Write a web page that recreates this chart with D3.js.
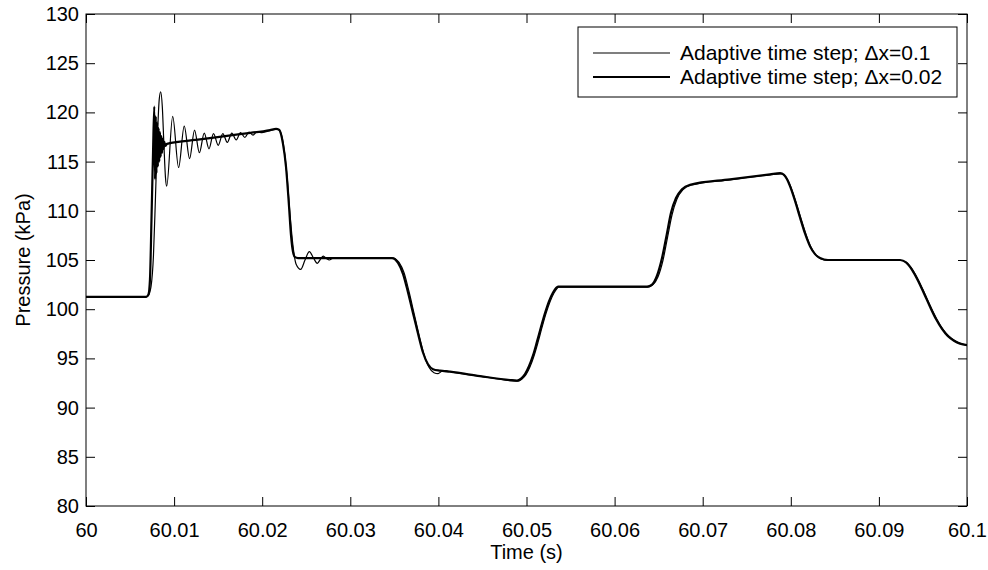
<!DOCTYPE html>
<html>
<head>
<meta charset="utf-8">
<script src="https://cdn.jsdelivr.net/npm/d3@7"></script>
<style>
  html, body { margin: 0; padding: 0; background: #fff; }
  svg { display: block; font-family: "Liberation Sans", Arial, Helvetica, sans-serif; }
</style>
</head>
<body>
<svg id="chart" width="988" height="570"></svg>
<script>
// Pressure transient, adaptive time step, coarse grid (dx = 0.1)
const timeCoarse = [
  60.00000, 60.00670, 60.00704, 60.00738, 60.00766, 60.00789, 60.00812, 60.00831,
  60.00848, 60.00866, 60.00885, 60.00902, 60.00916, 60.00984, 60.01051, 60.01115,
  60.01176, 60.01232, 60.01287, 60.01342, 60.01396, 60.01447, 60.01501, 60.01553,
  60.01604, 60.01655, 60.01705, 60.01754, 60.01803, 60.01850, 60.01896, 60.01941,
  60.01998, 60.02089, 60.02168, 60.02202, 60.02225, 60.02248, 60.02282, 60.02316,
  60.02350, 60.02384, 60.02437, 60.02486, 60.02535, 60.02582, 60.02626, 60.02662,
  60.02694, 60.02728, 60.02762, 60.02804, 60.03485, 60.03553, 60.03610, 60.03666,
  60.03723, 60.03780, 60.03837, 60.03893, 60.03950, 60.03996, 60.04041, 60.04086,
  60.04132, 60.04472, 60.04813, 60.04904, 60.04949, 60.04994, 60.05040, 60.05085,
  60.05131, 60.05176, 60.05221, 60.05267, 60.05312, 60.05369, 60.05834, 60.06379,
  60.06436, 60.06493, 60.06550, 60.06603, 60.06652, 60.06708, 60.06777, 60.06867,
  60.07310, 60.07764, 60.07889, 60.07934, 60.07968, 60.08002, 60.08059, 60.08116,
  60.08173, 60.08229, 60.08286, 60.08343, 60.08434, 60.09251, 60.09319, 60.09387,
  60.09455, 60.09523, 60.09591, 60.09660, 60.09728, 60.09796, 60.09864, 60.09932,
  60.10000
];
const pressureCoarse = [
  101.20, 101.20, 101.35, 102.30, 105.50, 111.50, 117.80, 121.30,
  122.10, 120.60, 116.60, 113.40, 112.50, 119.60, 114.40, 118.60,
  115.30, 118.20, 115.90, 117.90, 116.30, 117.85, 116.65, 117.85,
  116.95, 117.90, 117.20, 117.95, 117.45, 118.00, 117.70, 118.05,
  117.95, 118.15, 118.30, 118.10, 117.50, 116.30, 113.50, 109.60,
  106.40, 104.60, 104.05, 105.00, 105.85, 105.20, 104.66, 105.10,
  105.40, 105.15, 105.00, 105.20, 105.20, 104.75, 103.70, 101.80,
  99.60, 97.40, 95.40, 94.10, 93.55, 93.45, 93.70, 93.75,
  93.65, 93.20, 92.75, 92.68, 92.90, 93.35, 94.15, 95.25,
  96.65, 98.15, 99.55, 100.75, 101.65, 102.25, 102.25, 102.25,
  102.50, 103.30, 105.00, 107.40, 109.60, 111.20, 112.15, 112.60,
  113.15, 113.65, 113.75, 113.55, 113.10, 112.40, 110.90, 109.20,
  107.60, 106.30, 105.50, 105.10, 104.95, 104.95, 104.70, 103.95,
  102.85, 101.55, 100.20, 98.95, 97.95, 97.25, 96.80, 96.50,
  96.35
];

// Same case on the fine grid (dx = 0.02)
const timeFine = [
  60.00000, 60.00681, 60.00709, 60.00726, 60.00743, 60.00761, 60.00775, 60.00784,
  60.00792, 60.00800, 60.00808, 60.00816, 60.00824, 60.00832, 60.00840, 60.00848,
  60.00856, 60.00864, 60.00872, 60.00880, 60.00889, 60.00900, 60.00919, 60.01294,
  60.01748, 60.02089, 60.02157, 60.02191, 60.02213, 60.02236, 60.02270, 60.02304,
  60.02327, 60.02350, 60.02372, 60.02406, 60.03473, 60.03542, 60.03598, 60.03655,
  60.03712, 60.03769, 60.03825, 60.03882, 60.03939, 60.04018, 60.04132, 60.04472,
  60.04813, 60.04892, 60.04938, 60.04983, 60.05028, 60.05074, 60.05119, 60.05165,
  60.05210, 60.05255, 60.05301, 60.05358, 60.05834, 60.06368, 60.06425, 60.06481,
  60.06538, 60.06592, 60.06640, 60.06697, 60.06765, 60.06856, 60.07310, 60.07764,
  60.07878, 60.07923, 60.07957, 60.07991, 60.08048, 60.08105, 60.08161, 60.08218,
  60.08275, 60.08332, 60.08422, 60.09240, 60.09308, 60.09376, 60.09444, 60.09512,
  60.09580, 60.09648, 60.09716, 60.09784, 60.09852, 60.09921, 60.10000
];
const pressureFine = [
  101.25, 101.25, 101.50, 103.00, 109.00, 116.00, 120.60, 113.20,
  119.60, 113.80, 119.00, 114.50, 118.40, 115.00, 118.00, 115.50,
  117.60, 115.90, 117.30, 116.30, 117.00, 116.60, 116.80, 117.25,
  117.80, 118.20, 118.33, 118.25, 117.80, 116.80, 114.50, 110.50,
  107.50, 105.80, 105.30, 105.20, 105.20, 104.70, 103.60, 101.70,
  99.60, 97.50, 95.60, 94.40, 93.90, 93.75, 93.65, 93.20,
  92.80, 92.75, 92.95, 93.40, 94.20, 95.30, 96.70, 98.20,
  99.60, 100.80, 101.70, 102.30, 102.30, 102.30, 102.50, 103.40,
  105.20, 107.60, 109.80, 111.30, 112.20, 112.65, 113.20, 113.70,
  113.82, 113.65, 113.20, 112.50, 111.00, 109.30, 107.70, 106.40,
  105.60, 105.20, 105.00, 105.00, 104.75, 104.00, 102.90, 101.60,
  100.25, 99.00, 98.00, 97.25, 96.80, 96.50, 96.35
];

const xTicks = [60, 60.01, 60.02, 60.03, 60.04, 60.05, 60.06, 60.07, 60.08, 60.09, 60.1];
const xTickLabels = ["60", "60.01", "60.02", "60.03", "60.04", "60.05", "60.06", "60.07", "60.08", "60.09", "60.1"];
const yTicks = [80, 85, 90, 95, 100, 105, 110, 115, 120, 125, 130];
const seriesNames = ["Adaptive time step; \u0394x=0.1", "Adaptive time step; \u0394x=0.02"];

const svg = d3.select("#chart");
const W = 988, H = 570;
const m = { left: 86, right: 21, top: 14, bottom: 64 };
const pw = W - m.left - m.right, ph = H - m.top - m.bottom;
const FONT = 20;
const TICK = 9;

svg.append("rect").attr("width", W).attr("height", H).attr("fill", "#fff");

const x = d3.scaleLinear().domain([60, 60.1]).range([m.left, m.left + pw]);
const y = d3.scaleLinear().domain([80, 130]).range([m.top + ph, m.top]);

svg.append("defs").append("clipPath").attr("id", "plotClip")
  .append("rect").attr("x", m.left).attr("y", m.top).attr("width", pw).attr("height", ph);

// inward ticks on all four sides, labels only bottom/left
const fmtX = (d, i) => xTickLabels[i];
const axisB = d3.axisBottom(x).tickValues(xTicks).tickFormat(fmtX).tickSizeInner(-TICK).tickSizeOuter(0).tickPadding(17);
const axisT = d3.axisTop(x).tickValues(xTicks).tickFormat("").tickSizeInner(-TICK).tickSizeOuter(0);
const axisL = d3.axisLeft(y).tickValues(yTicks).tickFormat(d3.format("d")).tickSizeInner(-TICK).tickSizeOuter(0).tickPadding(7);
const axisR = d3.axisRight(y).tickValues(yTicks).tickFormat("").tickSizeInner(-TICK).tickSizeOuter(0);

function styleAxis(g) {
  g.select(".domain").remove();
  g.selectAll(".tick line").attr("stroke", "#000").attr("stroke-width", 1);
  g.selectAll(".tick text").attr("fill", "#000").attr("font-size", FONT)
    .attr("font-family", "Liberation Sans, Arial, sans-serif");
}

svg.append("g").attr("transform", `translate(0,${m.top + ph})`).call(axisB).call(styleAxis);
svg.append("g").attr("transform", `translate(0,${m.top})`).call(axisT).call(styleAxis);
svg.append("g").attr("transform", `translate(${m.left},0)`).call(axisL).call(styleAxis);
svg.append("g").attr("transform", `translate(${m.left + pw},0)`).call(axisR).call(styleAxis);

// curves
const line = d3.line().x(d => x(d[0])).y(d => y(d[1])).curve(d3.curveMonotoneX);
const coarse = timeCoarse.map((t, i) => [t, pressureCoarse[i]]);
const fine = timeFine.map((t, i) => [t, pressureFine[i]]);

const plot = svg.append("g").attr("clip-path", "url(#plotClip)");
plot.append("path").datum(coarse).attr("d", line)
  .attr("fill", "none").attr("stroke", "#000").attr("stroke-width", 1.2).attr("stroke-linejoin", "round");
plot.append("path").datum(fine).attr("d", line)
  .attr("fill", "none").attr("stroke", "#000").attr("stroke-width", 2.2).attr("stroke-linejoin", "round");

// frame
svg.append("rect").attr("x", m.left).attr("y", m.top).attr("width", pw).attr("height", ph)
  .attr("fill", "none").attr("stroke", "#000").attr("stroke-width", 1);

// axis titles
svg.append("text").attr("x", m.left + pw / 2).attr("y", 559).attr("text-anchor", "middle")
  .attr("font-size", FONT).text("Time (s)");
svg.append("text").attr("transform", `translate(30,${m.top + ph / 2}) rotate(-90)`)
  .attr("text-anchor", "middle").attr("font-size", FONT).text("Pressure (kPa)");

// legend
const lg = svg.append("g").attr("transform", "translate(578,27)");
lg.append("rect").attr("width", 379).attr("height", 70).attr("fill", "#fff")
  .attr("stroke", "#000").attr("stroke-width", 1);
const widths = [1.2, 2.2];
seriesNames.forEach((name, i) => {
  const cy = 26 + i * 24;
  lg.append("line").attr("x1", 15).attr("x2", 92).attr("y1", cy).attr("y2", cy)
    .attr("stroke", "#000").attr("stroke-width", widths[i]);
  lg.append("text").attr("x", 102).attr("y", cy).attr("dy", "0.35em")
    .attr("font-size", 21).text(name);
});
</script>
</body>
</html>
